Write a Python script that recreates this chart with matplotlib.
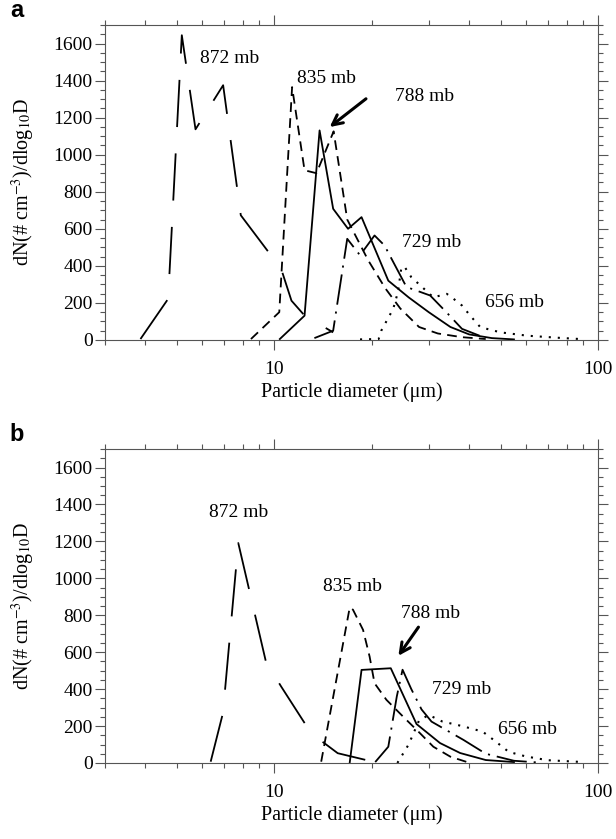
import numpy as np
import matplotlib.pyplot as plt
from matplotlib.ticker import FixedLocator, FixedFormatter, MultipleLocator, LogLocator, NullFormatter

plt.rcParams['font.family'] = ['Liberation Serif', 'DejaVu Serif']
plt.rcParams['mathtext.fontset'] = 'stix'
plt.rcParams['lines.scale_dashes'] = False

# Panel a - size distributions at each pressure level
d872_a = [3.86, 4.70, 5.18, 5.71, 6.95, 7.88, 10.5, 11.3, 12.4, 15.2]
n872_a = [5, 222, 1645, 1137, 1375, 673, 384, 212, 132, 41]
d835_a = [8.47, 10.36, 11.35, 12.4, 13.5, 15.25, 16.8, 19.5, 22.0, 24.5, 28.0, 32.0, 38.0, 45.0]
n835_a = [5, 150, 1365, 916, 900, 1126, 650, 430, 280, 170, 70, 35, 15, 5]
d788_a = [10.4, 12.4, 13.8, 15.2, 16.9, 18.6, 22.5, 26.0, 30.0, 35.0, 40.0, 47.0, 55.0]
n788_a = [5, 131, 1131, 708, 600, 663, 320, 230, 150, 70, 30, 10, 3]
d729_a = [13.3, 15.2, 16.8, 18.4, 20.4, 21.9, 25.6, 30.3, 34.0, 38.0, 45.0]
n729_a = [10, 50, 546, 457, 564, 510, 286, 240, 150, 60, 10]
d656_a = [18.4, 21.0, 21.4, 23.3, 24.1, 24.7, 25.3, 26.5, 31.0, 34.1, 35.8, 38.0, 40.3,
          43.3, 50.0, 60.5, 75.0, 88.0]
n656_a = [3, 5, 50, 168, 259, 393, 393, 339, 230, 249, 222, 186, 131, 69, 41, 23, 12, 5]

# Panel b
d872_b = [6.36, 6.94, 7.74, 9.42, 10.5, 13.0, 15.7, 20.4]
n872_b = [7, 270, 1191, 549, 414, 161, 53, 5]
d835_b = [13.96, 17.1, 17.5, 18.8, 19.7, 20.4, 22.2, 25.0, 28.2, 31.0, 35.0, 39.4]
n835_b = [7, 842, 830, 721, 576, 432, 342, 251, 161, 88, 34, 5]
d788_b = [17.1, 18.6, 22.9, 27.5, 32.5, 37.5, 45.0, 55.0]
n788_b = [2, 504, 513, 211, 108, 54, 16, 5]
d729_b = [20.5, 22.5, 23.9, 24.9, 26.5, 28.5, 30.6, 38.4, 45.0, 55.0, 65.0]
n729_b = [5, 88, 360, 505, 400, 290, 224, 125, 50, 12, 3]
d656_b = [24.0, 26.0, 28.0, 30.0, 33.0, 38.0, 44.0, 48.0, 53.0, 60.0, 70.0, 90.0]
n656_b = [0, 100, 230, 260, 225, 200, 170, 120, 60, 35, 15, 5]

styles = {
    '872': dict(color='black', lw=1.3, dashes=(34, 19)),
    '835': dict(color='black', lw=1.3, dashes=(7, 4.5)),
    '788': dict(color='black', lw=1.3, linestyle='-'),
    '729': dict(color='black', lw=1.3, dashes=(22, 5, 1.5, 5)),
    '656': dict(color='black', lw=1.5, dashes=(1.5, 5)),
}

fig = plt.figure(figsize=(6.16, 8.39), dpi=100)
ax_a = fig.add_axes([0.1705, 0.5948, 0.8003, 0.3754])
ax_b = fig.add_axes([0.1705, 0.0906, 0.8003, 0.3742])

panels = [
    (ax_a, 'a', [(d872_a, n872_a, '872'), (d835_a, n835_a, '835'), (d788_a, n788_a, '788'),
                 (d729_a, n729_a, '729'), (d656_a, n656_a, '656')]),
    (ax_b, 'b', [(d872_b, n872_b, '872'), (d835_b, n835_b, '835'), (d788_b, n788_b, '788'),
                 (d729_b, n729_b, '729'), (d656_b, n656_b, '656')]),
]

for ax, letter, series in panels:
    for d, n, key in series:
        ax.plot(d, n, **styles[key])
    ax.set_xscale('log')
    ax.set_xlim(3, 100)
    ax.set_ylim(0, 1700)
    ax.xaxis.set_major_locator(FixedLocator([10, 100]))
    ax.xaxis.set_major_formatter(FixedFormatter(['10', '100']))
    ax.xaxis.set_minor_locator(LogLocator(base=10, subs=np.arange(2, 10)))
    ax.xaxis.set_minor_formatter(NullFormatter())
    ax.yaxis.set_major_locator(FixedLocator(np.arange(0, 1601, 200)))
    ax.yaxis.set_minor_locator(MultipleLocator(50))
    ax.tick_params(which='both', direction='out', top=True, right=True, labelsize=14,
                   color='#555555', width=0.8)
    ax.tick_params(axis='x', which='major', length=7, pad=8)
    ax.tick_params(axis='y', which='major', length=7, pad=2)
    ax.tick_params(which='minor', length=3.5)
    for s in ax.spines.values():
        s.set_color('#555555')
        s.set_linewidth(0.8)
    ax.set_xlabel('Particle diameter (\u03bcm)', fontsize=14.5, labelpad=3)
    ax.set_ylabel(r'dN(# cm$^{-3}$)/dlog$_{10}$D', fontsize=14.5, labelpad=12)
    fig.text(0.016, ax.get_position().y1 + 0.004, letter, fontsize=17, fontweight='bold',
             family='Liberation Sans', va='bottom', ha='left')

fs = 14
ax_a.text(7.30, 1518, '872 mb', fontsize=fs, ha='center', va='center')
ax_a.text(14.5, 1410, '835 mb', fontsize=fs, ha='center', va='center')
ax_a.text(29.2, 1312, '788 mb', fontsize=fs, ha='center', va='center')
ax_a.text(30.7, 526, '729 mb', fontsize=fs, ha='center', va='center')
ax_a.text(55.2, 200, '656 mb', fontsize=fs, ha='center', va='center')
ax_a.annotate('', xy=(14.6, 1140), xytext=(19.5, 1311),
              arrowprops=dict(arrowstyle='->', lw=2.2, color='black', mutation_scale=18))

ax_b.text(7.78, 1356, '872 mb', fontsize=fs, ha='center', va='center')
ax_b.text(17.46, 954, '835 mb', fontsize=fs, ha='center', va='center')
ax_b.text(30.3, 808, '788 mb', fontsize=fs, ha='center', va='center')
ax_b.text(37.8, 396, '729 mb', fontsize=fs, ha='center', va='center')
ax_b.text(60.7, 184, '656 mb', fontsize=fs, ha='center', va='center')
ax_b.annotate('', xy=(23.9, 568), xytext=(28.2, 748),
              arrowprops=dict(arrowstyle='->', lw=2.2, color='black', mutation_scale=18))

fig.savefig('out.png', dpi=100)
